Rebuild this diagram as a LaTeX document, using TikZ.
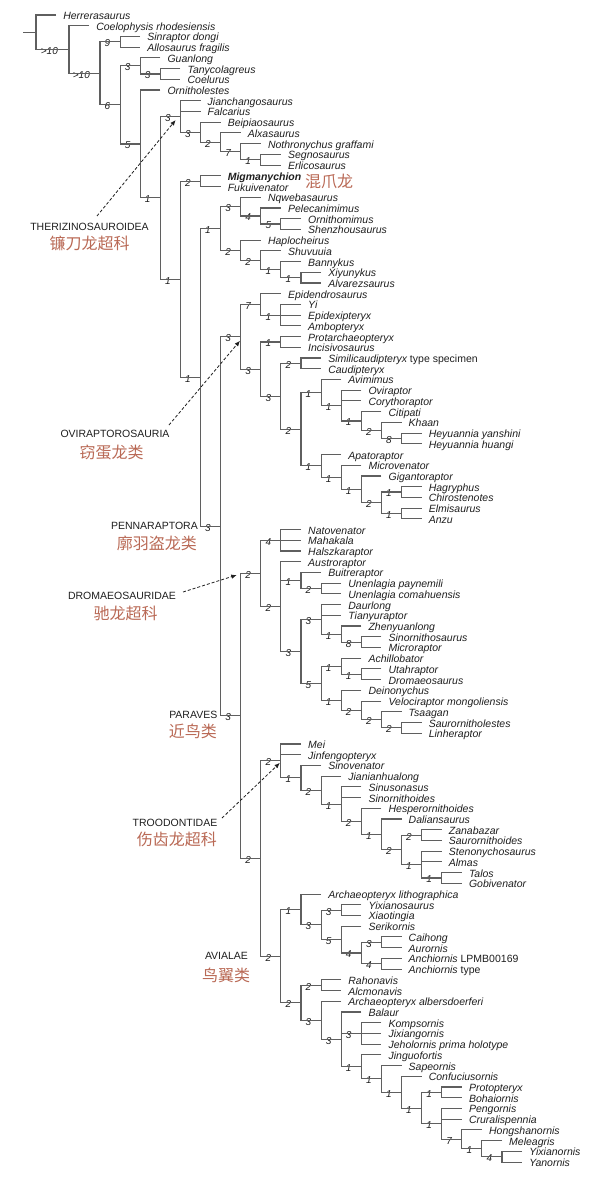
\documentclass[tikz,border=0pt]{standalone}
\usepackage{fontspec}
\setmainfont{Liberation Sans}
\newfontfamily\cjk{Noto Sans CJK SC}
\usetikzlibrary{calc,arrows.meta}
\definecolor{brn}{RGB}{185,105,85}
\definecolor{txt}{RGB}{30,30,30}
\definecolor{brc}{RGB}{95,95,95}
\tikzset{
  branch/.style={draw=brc, line width=1.1pt},
  leaf/.style={anchor=west, inner xsep=7pt, inner ysep=0pt, text height=9pt, text depth=0pt, text=txt, font=\itshape\fontsize{10.5}{12}\selectfont},
  sup/.style={anchor=west, inner sep=0pt, yshift=-1.5pt, text=txt, font=\itshape\fontsize{10}{12}\selectfont},
  grp/.style={text=txt, inner sep=0pt, font=\fontsize{10.5}{12}\selectfont},
  grpc/.style={text=brn, inner sep=0pt, font=\cjk\fontsize{16}{18}\selectfont},
  arr/.style={draw=txt, line width=0.8pt, dash pattern=on 3pt off 2pt, -{Latex[length=5.5pt,width=4.5pt]}},
}
\newcommand\tleaf[4]{\node[leaf] (#1) at ({#2+20.1},{15+(#3-1)*10.72}) {#4};}
\newcommand\tclade[6][15.6]{%
  \path let \p1=(#4), \p2=(#5) in coordinate (#2) at (#3pt,{(\y1+\y2)/2});
  \draw[branch] (#4) -| (#2) |- (#5);
  \node[sup] (#2s) at ([xshift=-#1pt]#2) {#6};}
\newcommand\tmid[2]{\draw[branch] (#1) |- (#2);}
\begin{document}
\begin{tikzpicture}[x=1pt,y=-1pt]
\useasboundingbox (0,0) rectangle (600,1188);
\tleaf{L1}{36}{1}{Herrerasaurus}
\tleaf{L2}{69}{2}{Coelophysis rhodesiensis}
\tleaf{L3}{120.1}{3}{Sinraptor dongi}
\tleaf{L4}{120.1}{4}{Allosaurus fragilis}
\tleaf{L5}{140.2}{5}{Guanlong}
\tleaf{L6}{160.3}{6}{Tanycolagreus}
\tleaf{L7}{160.3}{7}{Coelurus}
\tleaf{L8}{140.2}{8}{Ornitholestes}
\tleaf{L9}{180.4}{9}{Jianchangosaurus}
\tleaf{L10}{180.4}{10}{Falcarius}
\tleaf{L11}{200.5}{11}{Beipiaosaurus}
\tleaf{L12}{220.6}{12}{Alxasaurus}
\tleaf{L13}{240.7}{13}{Nothronychus graffami}
\tleaf{L14}{260.8}{14}{Segnosaurus}
\tleaf{L15}{260.8}{15}{Erlicosaurus}
\tleaf{L16}{200.5}{16}{\bfseries Migmanychion}
\tleaf{L17}{200.5}{17}{Fukuivenator}
\tleaf{L18}{240.7}{18}{Nqwebasaurus}
\tleaf{L19}{260.8}{19}{Pelecanimimus}
\tleaf{L20}{280.9}{20}{Ornithomimus}
\tleaf{L21}{280.9}{21}{Shenzhousaurus}
\tleaf{L22}{240.7}{22}{Haplocheirus}
\tleaf{L23}{260.8}{23}{Shuvuuia}
\tleaf{L24}{280.9}{24}{Bannykus}
\tleaf{L25}{301}{25}{Xiyunykus}
\tleaf{L26}{301}{26}{Alvarezsaurus}
\tleaf{L27}{260.8}{27}{Epidendrosaurus}
\tleaf{L28}{280.9}{28}{Yi}
\tleaf{L29}{280.9}{29}{Epidexipteryx}
\tleaf{L30}{280.9}{30}{Ambopteryx}
\tleaf{L31}{280.9}{31}{Protarchaeopteryx}
\tleaf{L32}{280.9}{32}{Incisivosaurus}
\tleaf{L33}{301}{33}{Similicaudipteryx \upshape type specimen}
\tleaf{L34}{301}{34}{Caudipteryx}
\tleaf{L35}{321.1}{35}{Avimimus}
\tleaf{L36}{341.2}{36}{Oviraptor}
\tleaf{L37}{341.2}{37}{Corythoraptor}
\tleaf{L38}{361.3}{38}{Citipati}
\tleaf{L39}{381.4}{39}{Khaan}
\tleaf{L40}{401.5}{40}{Heyuannia yanshini}
\tleaf{L41}{401.5}{41}{Heyuannia huangi}
\tleaf{L42}{321.1}{42}{Apatoraptor}
\tleaf{L43}{341.2}{43}{Microvenator}
\tleaf{L44}{361.3}{44}{Gigantoraptor}
\tleaf{L45}{401.5}{45}{Hagryphus}
\tleaf{L46}{401.5}{46}{Chirostenotes}
\tleaf{L47}{401.5}{47}{Elmisaurus}
\tleaf{L48}{401.5}{48}{Anzu}
\tleaf{L49}{280.9}{49}{Natovenator}
\tleaf{L50}{280.9}{50}{Mahakala}
\tleaf{L51}{280.9}{51}{Halszkaraptor}
\tleaf{L52}{280.9}{52}{Austroraptor}
\tleaf{L53}{301}{53}{Buitreraptor}
\tleaf{L54}{321.1}{54}{Unenlagia paynemili}
\tleaf{L55}{321.1}{55}{Unenlagia comahuensis}
\tleaf{L56}{321.1}{56}{Daurlong}
\tleaf{L57}{321.1}{57}{Tianyuraptor}
\tleaf{L58}{341.2}{58}{Zhenyuanlong}
\tleaf{L59}{361.3}{59}{Sinornithosaurus}
\tleaf{L60}{361.3}{60}{Microraptor}
\tleaf{L61}{341.2}{61}{Achillobator}
\tleaf{L62}{361.3}{62}{Utahraptor}
\tleaf{L63}{361.3}{63}{Dromaeosaurus}
\tleaf{L64}{341.2}{64}{Deinonychus}
\tleaf{L65}{361.3}{65}{Velociraptor mongoliensis}
\tleaf{L66}{381.4}{66}{Tsaagan}
\tleaf{L67}{401.5}{67}{Saurornitholestes}
\tleaf{L68}{401.5}{68}{Linheraptor}
\tleaf{L69}{280.9}{69}{Mei}
\tleaf{L70}{280.9}{70}{Jinfengopteryx}
\tleaf{L71}{301}{71}{Sinovenator}
\tleaf{L72}{321.1}{72}{Jianianhualong}
\tleaf{L73}{341.2}{73}{Sinusonasus}
\tleaf{L74}{341.2}{74}{Sinornithoides}
\tleaf{L75}{361.3}{75}{Hesperornithoides}
\tleaf{L76}{381.4}{76}{Daliansaurus}
\tleaf{L77}{421.6}{77}{Zanabazar}
\tleaf{L78}{421.6}{78}{Saurornithoides}
\tleaf{L79}{421.6}{79}{Stenonychosaurus}
\tleaf{L80}{421.6}{80}{Almas}
\tleaf{L81}{441.7}{81}{Talos}
\tleaf{L82}{441.7}{82}{Gobivenator}
\tleaf{L83}{301}{83}{Archaeopteryx lithographica}
\tleaf{L84}{341.2}{84}{Yixianosaurus}
\tleaf{L85}{341.2}{85}{Xiaotingia}
\tleaf{L86}{341.2}{86}{Serikornis}
\tleaf{L87}{381.4}{87}{Caihong}
\tleaf{L88}{381.4}{88}{Aurornis}
\tleaf{L89}{381.4}{89}{Anchiornis \upshape LPMB00169}
\tleaf{L90}{381.4}{90}{Anchiornis \upshape type}
\tleaf{L91}{321.1}{91}{Rahonavis}
\tleaf{L92}{321.1}{92}{Alcmonavis}
\tleaf{L93}{321.1}{93}{Archaeopteryx albersdoerferi}
\tleaf{L94}{341.2}{94}{Balaur}
\tleaf{L95}{361.3}{95}{Kompsornis}
\tleaf{L96}{361.3}{96}{Jixiangornis}
\tleaf{L97}{361.3}{97}{Jeholornis prima holotype}
\tleaf{L98}{361.3}{98}{Jinguofortis}
\tleaf{L99}{381.4}{99}{Sapeornis}
\tleaf{L100}{401.5}{100}{Confuciusornis}
\tleaf{L101}{441.7}{101}{Protopteryx}
\tleaf{L102}{441.7}{102}{Bohaiornis}
\tleaf{L103}{441.7}{103}{Pengornis}
\tleaf{L104}{441.7}{104}{Cruralispennia}
\tleaf{L105}{461.8}{105}{Hongshanornis}
\tleaf{L106}{481.9}{106}{Meleagris}
\tleaf{L107}{502}{107}{Yixianornis}
\tleaf{L108}{502}{108}{Yanornis}
% internal nodes
\tclade{NT1}{260.8}{L14.west}{L15.west}{1}
\tclade{NT7}{240.7}{L13.west}{NT1}{7}
\tclade{NT2}{220.6}{L12.west}{NT7}{2}
\tclade{NT3}{200.5}{L11.west}{NT2}{3}
\tclade{NTher}{180.4}{L9.west}{NT3}{3}\tmid{NTher}{L10.west}
\tclade{NMig}{200.5}{L16.west}{L17.west}{2}
\tclade{NOrn5}{280.9}{L20.west}{L21.west}{5}
\tclade{NOrn4}{260.8}{L19.west}{NOrn5}{4}
\tclade{NOrn3}{240.7}{L18.west}{NOrn4}{3}
\tclade{NAlv1b}{301}{L25.west}{L26.west}{1}
\tclade{NAlv1}{280.9}{L24.west}{NAlv1b}{1}
\tclade{NAlv2b}{260.8}{L23.west}{NAlv1}{2}
\tclade{NAlv2}{240.7}{L22.west}{NAlv2b}{2}
\tclade{NOA}{220.6}{NOrn3}{NAlv2}{1}
\tclade{NOv1}{280.9}{L28.west}{L30.west}{1}\tmid{NOv1}{L29.west}
\tclade{NOv7}{260.8}{L27.west}{NOv1}{7}
\tclade{NProt1}{280.9}{L31.west}{L32.west}{1}
\tclade{NSim2}{301}{L33.west}{L34.west}{2}
\tclade{NHey8}{401.5}{L40.west}{L41.west}{8}
\tclade{NKha2}{381.4}{L39.west}{NHey8}{2}
\tclade{NCit1}{361.3}{L38.west}{NKha2}{1}
\tclade{NOvir1}{341.2}{L36.west}{NCit1}{1}\tmid{NOvir1}{L37.west}
\tclade{NAvi1}{321.1}{L35.west}{NOvir1}{1}
\tclade{NHag1}{401.5}{L45.west}{L46.west}{1}
\tclade{NElm1}{401.5}{L47.west}{L48.west}{1}
\tclade{NCae2}{381.4}{NHag1}{NElm1}{2}
\tclade{NGig1}{361.3}{L44.west}{NCae2}{1}
\tclade{NMic1}{341.2}{L43.west}{NGig1}{1}
\tclade{NApa1}{321.1}{L42.west}{NMic1}{1}
\tclade{NOv2}{301}{NAvi1}{NApa1}{2}
\tclade{NOv3b}{280.9}{NSim2}{NOv2}{3}
\tclade{NOv3}{260.8}{NProt1}{NOv3b}{3}
\tclade{NOvi}{240.7}{NOv7}{NOv3}{3}
\tclade{NHal4}{280.9}{L49.west}{L51.west}{4}\tmid{NHal4}{L50.west}
\tclade{NUne2}{321.1}{L54.west}{L55.west}{2}
\tclade{NBui1}{301}{L53.west}{NUne2}{1}
\tclade{NSin8}{361.3}{L59.west}{L60.west}{8}
\tclade{NZhe1}{341.2}{L58.west}{NSin8}{1}
\tclade{NDau3b}{321.1}{L56.west}{NZhe1}{3}\tmid{NDau3b}{L57.west}
\tclade{NUta1}{361.3}{L62.west}{L63.west}{1}
\tclade{NAch1}{341.2}{L61.west}{NUta1}{1}
\tclade{NSau2}{401.5}{L67.west}{L68.west}{2}
\tclade{NTsa2}{381.4}{L66.west}{NSau2}{2}
\tclade{NVel2}{361.3}{L65.west}{NTsa2}{2}
\tclade{NDei1}{341.2}{L64.west}{NVel2}{1}
\tclade{NAch5}{321.1}{NAch1}{NDei1}{5}
\tclade{NDau3}{301}{NDau3b}{NAch5}{3}
\tclade{NDr2}{280.9}{L52.west}{NDau3}{2}\tmid{NDr2}{NBui1}
\tclade{NDro}{260.8}{NHal4}{NDr2}{2}
\tclade{NTal1}{441.7}{L81.west}{L82.west}{1}
\tclade{NSte1}{421.6}{L79.west}{NTal1}{1}\tmid{NSte1}{L80.west}
\tclade{NZan2}{421.6}{L77.west}{L78.west}{2}
\tclade{NZS2}{401.5}{NZan2}{NSte1}{2}
\tclade{NDal1}{381.4}{L76.west}{NZS2}{1}
\tclade{NHes2}{361.3}{L75.west}{NDal1}{2}
\tclade{NSnu1}{341.2}{L73.west}{NHes2}{1}\tmid{NSnu1}{L74.west}
\tclade{NJia2}{321.1}{L72.west}{NSnu1}{2}
\tclade{NSnv1}{301}{L71.west}{NJia2}{1}
\tclade{NTro2}{280.9}{L69.west}{NSnv1}{2}\tmid{NTro2}{L70.west}
\tclade{NYix3}{341.2}{L84.west}{L85.west}{3}
\tclade{NCai3}{381.4}{L87.west}{L88.west}{3}
\tclade{NAnc4}{381.4}{L89.west}{L90.west}{4}
\tclade{NCA4}{361.3}{NCai3}{NAnc4}{4}
\tclade{NSer5}{341.2}{L86.west}{NCA4}{5}
\tclade{NYix3a}{321.1}{NYix3}{NSer5}{3}
\tclade{NArl1}{301}{L83.west}{NYix3a}{1}
\tclade{NRah2}{321.1}{L91.west}{L92.west}{2}
\tclade{NKom3}{361.3}{L95.west}{L97.west}{3}\tmid{NKom3}{L96.west}
\tclade{NYix4}{502}{L107.west}{L108.west}{4}
\tclade{NMel1}{481.9}{L106.west}{NYix4}{1}
\tclade{NHon7}{461.8}{L105.west}{NMel1}{7}
\tclade{NPen1}{441.7}{L103.west}{NHon7}{1}\tmid{NPen1}{L104.west}
\tclade{NPro1}{441.7}{L101.west}{L102.west}{1}
\tclade{NPB1}{421.6}{NPro1}{NPen1}{1}
\tclade{NCon1}{401.5}{L100.west}{NPB1}{1}
\tclade{NSap1}{381.4}{L99.west}{NCon1}{1}
\tclade{NJin1}{361.3}{L98.west}{NSap1}{1}
\tclade{NBal3}{341.2}{L94.west}{NJin1}{3}\tmid{NBal3}{NKom3}
\tclade{NAlb3}{321.1}{L93.west}{NBal3}{3}
\tclade{NRA2}{301}{NRah2}{NAlb3}{2}
\tclade{NAvl2}{280.9}{NArl1}{NRA2}{2}
\tclade{NTA2}{260.8}{NTro2}{NAvl2}{2}
\tclade{NPar}{240.7}{NDro}{NTA2}{3}
\tclade{NPenn}{220.6}{NOvi}{NPar}{3}
\tclade{ND}{200.5}{NOA}{NPenn}{1}
\tclade{NC}{180.4}{NMig}{ND}{1}
\tclade{NB}{160.3}{NTher}{NC}{1}
\tclade{N5}{140.2}{L8.west}{NB}{5}
\tclade{N3b}{160.3}{L6.west}{L7.west}{3}
\tclade{N3a}{140.2}{L5.west}{N3b}{3}
\tclade{N6}{120.1}{N3a}{N5}{6}
\tclade{N9}{120.1}{L3.west}{L4.west}{9}
\tclade[27.3]{N2}{100}{N9}{N6}{>10}
\tclade[28.3]{N1}{69}{L2.west}{N2}{>10}
\path let \p1=(L1.west), \p2=(N1) in coordinate (R0) at (36pt,{(\y1+\y2)/2});
\draw[branch] (L1.west) -| (R0) |- (N1);
\coordinate (root) at ([xshift=-13pt]R0);
\draw[branch] (root) -- (R0);
% group labels
\node[grp] (therE) at (89.5,227) {THERIZINOSAUROIDEA};
\node[grpc] (therC) at (89.5,243) {镰刀龙超科};
\node[grpc,anchor=west] (migC) at (305,181) {混爪龙};
\node[grp] (oviE) at (115,434) {OVIRAPTOROSAURIA};
\node[grpc] (oviC) at (111.5,452) {窃蛋龙类};
\node[grp,anchor=east] (penE) at (198,526) {PENNARAPTORA};
\node[grpc,anchor=east] (penC) at (197,543) {廓羽盗龙类};
\node[grp] (droE) at (122,596) {DROMAEOSAURIDAE};
\node[grpc] (droC) at (125.5,613) {驰龙超科};
\node[grp,anchor=east] (parE) at (217.5,715) {PARAVES};
\node[grpc,anchor=east] (parC) at (217,731) {近鸟类};
\node[grp,anchor=east] (troE) at (217.5,823) {TROODONTIDAE};
\node[grpc,anchor=east] (troC) at (217,839) {伤齿龙超科};
\node[grp] (aviE) at (226.5,956) {AVIALAE};
\node[grpc] (aviC) at (226,975) {鸟翼类};
% arrows
\coordinate (a1s) at (97,216);
\coordinate (a1e) at ([shift={(-4.7pt,-3.5pt)}]NTher);
\draw[arr] (a1s) -- (a1e);
\coordinate (a2s) at (169,425);
\coordinate (a2e) at ([shift={(-0.7pt,-4pt)}]NOvi);
\draw[arr] (a2s) -- (a2e);
\coordinate (a3s) at (183,592);
\coordinate (a3e) at ([shift={(-24pt,-1.6pt)}]NDro);
\draw[arr] (a3s) -- (a3e);
\coordinate (a4s) at (222,818);
\coordinate (a4e) at ([shift={(-1pt,-2pt)}]NTro2);
\draw[arr] (a4s) -- (a4e);
\end{tikzpicture}
\end{document}
